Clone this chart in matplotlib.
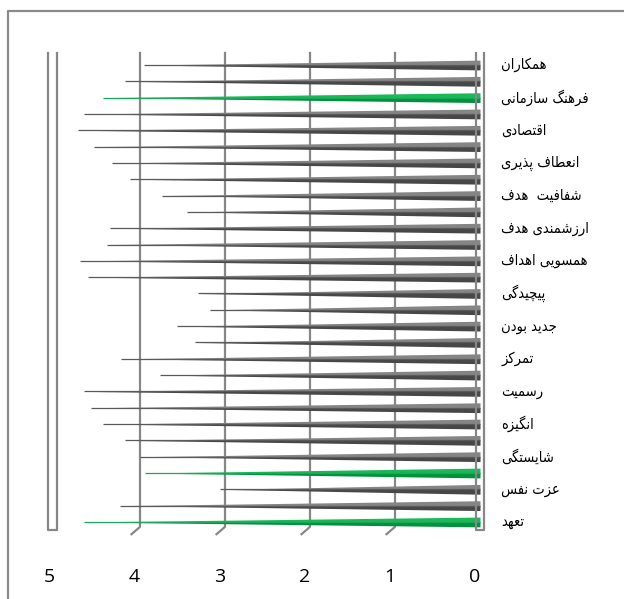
'''Cone bar chart of ratings, axis running from 5 on the left to 0 on the right'''
import matplotlib
matplotlib.use('Agg')
import matplotlib.pyplot as plt
import numpy as np

# one value per cone, top to bottom
values = [3.95, 4.18, 4.44, 4.66, 4.73, 4.54, 4.33, 4.12, 3.74, 3.45,
          4.35, 4.39, 4.71, 4.61, 3.32, 3.18, 3.57, 3.35, 4.22, 3.76,
          4.66, 4.58, 4.44, 4.18, 4.00, 3.94, 3.06, 4.24, 4.66]
green_bars = [2, 25, 28]
# Excel shows only every second category name
labels = ['همکاران', 'فرهنگ سازمانی', 'اقتصادی', 'انعطاف پذیری', 'شفافیت  هدف',
          'ارزشمندی هدف', 'همسویی اهداف', 'پیچیدگی', 'جدید بودن', 'تمرکز',
          'رسمیت', 'انگیزه', 'شایستگی', 'عزت نفس', 'تعهد']
ticks = [0, 1, 2, 3, 4, 5]

# isolated, final, initial, medial presentation forms
FORMS = {
    'ا': ('\uFE8D', '\uFE8E', None, None),
    'ب': ('\uFE8F', '\uFE90', '\uFE91', '\uFE92'),
    'پ': ('\uFB56', '\uFB57', '\uFB58', '\uFB59'),
    'ت': ('\uFE95', '\uFE96', '\uFE97', '\uFE98'),
    'ج': ('\uFE9D', '\uFE9E', '\uFE9F', '\uFEA0'),
    'چ': ('\uFB7A', '\uFB7B', '\uFB7C', '\uFB7D'),
    'د': ('\uFEA9', '\uFEAA', None, None),
    'ذ': ('\uFEAB', '\uFEAC', None, None),
    'ر': ('\uFEAD', '\uFEAE', None, None),
    'ز': ('\uFEAF', '\uFEB0', None, None),
    'س': ('\uFEB1', '\uFEB2', '\uFEB3', '\uFEB4'),
    'ش': ('\uFEB5', '\uFEB6', '\uFEB7', '\uFEB8'),
    'ص': ('\uFEB9', '\uFEBA', '\uFEBB', '\uFEBC'),
    'ط': ('\uFEC1', '\uFEC2', '\uFEC3', '\uFEC4'),
    'ع': ('\uFEC9', '\uFECA', '\uFECB', '\uFECC'),
    'ف': ('\uFED1', '\uFED2', '\uFED3', '\uFED4'),
    'ق': ('\uFED5', '\uFED6', '\uFED7', '\uFED8'),
    'ک': ('\uFB8E', '\uFB8F', '\uFB90', '\uFB91'),
    'گ': ('\uFB92', '\uFB93', '\uFB94', '\uFB95'),
    'م': ('\uFEE1', '\uFEE2', '\uFEE3', '\uFEE4'),
    'ن': ('\uFEE5', '\uFEE6', '\uFEE7', '\uFEE8'),
    'ه': ('\uFEE9', '\uFEEA', '\uFEEB', '\uFEEC'),
    'و': ('\uFEED', '\uFEEE', None, None),
    'ی': ('\uFBFC', '\uFBFD', '\uFBFE', '\uFBFF'),
}


def shape(text):
    '''Joins Persian letters and reverses them, matplotlib has no RTL layout'''
    out = []
    for k, c in enumerate(text):
        if c not in FORMS:
            out.append(c)
            continue
        prev = text[k - 1] if k > 0 else ''
        nxt = text[k + 1] if k + 1 < len(text) else ''
        join_prev = prev in FORMS and FORMS[prev][2] is not None
        join_next = nxt in FORMS and FORMS[c][2] is not None
        iso, fin, ini, med = FORMS[c]
        if join_prev and join_next:
            out.append(med)
        elif join_prev:
            out.append(fin)
        elif join_next:
            out.append(ini)
        else:
            out.append(iso)
    return ''.join(reversed(out))


plt.rcParams['font.family'] = ['DejaVu Sans']
fig = plt.figure(figsize=(6.24, 5.99), dpi=100)
ax = fig.add_axes([0, 0, 1, 1])
# 85 px per unit, 0 sits at x=480 px; cones 16.32 px apart starting at y=65 px
ax.set_xlim(480 / 85, (480 - 624) / 85)
ax.set_ylim((599 - 65) / 16.32, -65 / 16.32)
ax.axis('off')

grey = '#878787'
top_y, bot_y = -0.74, 28.3

# chart frame (only top and left visible in the crop)
ax.plot([(480 - 8) / 85, (480 - 8) / 85, -3], [40, (11 - 65) / 16.32, (11 - 65) / 16.32],
        color='#8a8a8a', lw=1.6, zorder=1)

# gridlines with the little floor slant at the bottom
for v in ticks[1:5]:
    ax.plot([v, v, v + 0.1], [top_y, bot_y, bot_y + 0.45], color=grey, lw=1.6, zorder=1)

# cones
t = np.linspace(0, 1, 80)
h0 = 0.3
for i, val in enumerate(values):
    xs = val * t
    half = h0 * (1 - t)
    if i in green_bars:
        light, dark, line = '#19b958', '#00913d', '#1aa856'
    else:
        light, dark, line = '#858585', '#474747', '#5a5a5a'
    ax.fill_between(xs, i - half, i, color=light, lw=0, zorder=3)
    ax.fill_between(xs, i, i + half, color=dark, lw=0, zorder=3)
    ax.plot([0, val], [i, i], color=line, lw=0.9, zorder=3, solid_capstyle='butt')

# side walls at 5 and 0
for left, right in [(5.08, 4.975), (0.05, -0.05)]:
    ax.plot([left, left, right, right], [top_y, bot_y + 0.2, bot_y + 0.2, top_y],
            color=grey, lw=1.6, zorder=4)
ax.plot([0.05, 0.05], [top_y, bot_y], color='#a0a0a0', lw=1.2, zorder=2)

# value axis labels, drawn on the front plane
for v in ticks:
    ax.text(v + 0.065, 31.4, str(v), ha='center', va='center', fontsize=14,
            family='Open Sans', color='black')

# category names beside every second cone
for k, name in enumerate(labels):
    ax.text(-0.25, 2 * k, shape(name), ha='left', va='center', fontsize=10.5,
            fontstretch='condensed', color='black')

fig.savefig('out.png', dpi=100, facecolor='white')
